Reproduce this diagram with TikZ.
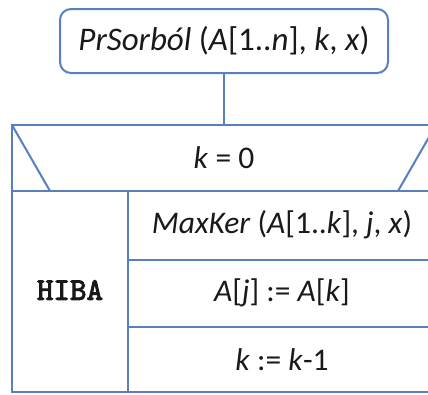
\documentclass[tikz,border=0pt]{standalone}
\usepackage{fontspec}
\setmainfont{Carlito}
\newfontfamily\codefont{lmmono10-regular.otf}[FakeBold=3]
\begin{document}
\begin{tikzpicture}[x=1pt,y=-1pt,
  frame/.style={draw=nsblue,line width=2pt},
  titlebox/.style={draw=nsblue,line width=2pt,rounded corners=11pt,fill=white,
    minimum width=328pt,minimum height=64pt,inner sep=0pt},
  cell/.style={inner sep=0pt,font=\fontsize{31.5}{36}\selectfont,text=black!90},
  code/.style={inner sep=0pt,font=\codefont\fontsize{31.5}{36}\selectfont,text=black!90}]
\definecolor{nsblue}{RGB}{88,128,190}
\useasboundingbox (0,0) rectangle (428,394);
\clip (0,0) rectangle (428,394);
% procedure header
\node[titlebox,cell,font=\fontsize{33}{38}\selectfont] (title) at (224,41) {\textit{PrSorból} (\textit{A}[1..\textit{n}], \textit{k}, \textit{x})};
\coordinate (frametop) at (224,125);
\draw[frame] (title.south) -- (frametop);
% structogram frame
\draw[frame] (12,125) rectangle (436,392);
% loop condition (pre-test) band
\draw[frame] (12,191) -- (436,191);
\draw[frame] (12,125) -- (50,191);
\draw[frame] (436,125) -- (398,191);
% error branch divider and statement rows
\draw[frame] (128,191) -- (128,392);
\draw[frame] (128,260) -- (436,260);
\draw[frame] (128,327) -- (436,327);
% texts
\node[cell] (cond) at (224,158) {\textit{k} = 0};
\node[code] (err) at (70,290) {HIBA};
\node[cell] (s1) at (282,225) {\textit{MaxKer} (\textit{A}[1..\textit{k}], \textit{j}, \textit{x})};
\node[cell] (s2) at (282,293) {\textit{A}[\textit{j}] := \textit{A}[\textit{k}]};
\node[cell] (s3) at (282,360) {\textit{k} := \textit{k}-1};
\end{tikzpicture}
\end{document}
